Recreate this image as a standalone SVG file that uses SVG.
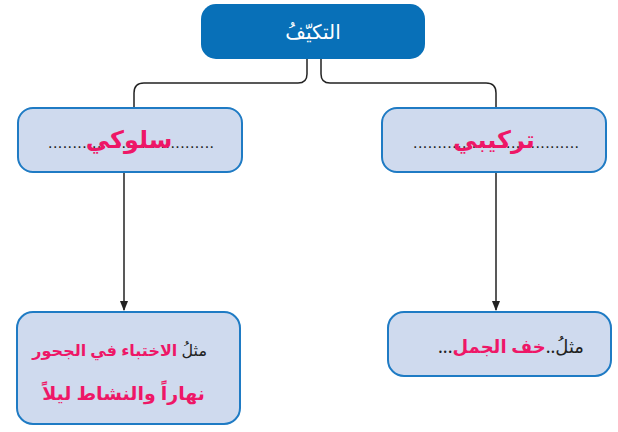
<svg xmlns="http://www.w3.org/2000/svg" width="618" height="432" viewBox="0 0 618 432">
<style>
.n{fill:#cfdaee;stroke:#1f7bc4;stroke-width:2}
.t{font-family:"Noto Sans","DejaVu Sans",sans-serif;direction:rtl}
.r{fill:#ee1767;font-weight:bold}
.k{fill:#222}
.d{fill:#222;font-family:"Liberation Sans",sans-serif;font-size:16px}
.c{fill:none;stroke:#222;stroke-width:1.5}
</style>
<defs><marker id="a" viewBox="0 0 10 10" refX="9" refY="5" markerWidth="7" markerHeight="9" orient="auto"><path d="M0,1 L10,5 L0,9z" fill="#222"/></marker></defs>
<g id="connectors">
<path class="c" d="M307,59 V74 Q307,83 298,83 H144 Q134,83 134,93 V107"/>
<path class="c" d="M321,59 V74 Q321,83 330,83 H486 Q496,83 496,93 V107"/>
<path class="c" d="M124,172 V310" marker-end="url(#a)"/>
<path class="c" d="M496,172 V310" marker-end="url(#a)"/>
</g>
<g id="root"><rect x="201" y="4" width="224" height="55" rx="15" fill="#0870b8"/>
<text class="t" x="313" y="39" text-anchor="middle" font-size="20" fill="#fff">التكيّفُ</text></g>
<g id="n1"><rect class="n" x="18" y="108" width="224" height="64" rx="15"/>
<text class="d" x="48" y="148" textLength="166" lengthAdjust="spacing">..................................</text>
<text class="t r" x="129" y="148" text-anchor="middle" font-size="24">سلوكي</text></g>
<g id="n2"><rect class="n" x="382" y="108" width="224" height="64" rx="15"/>
<text class="d" x="413" y="148" textLength="166" lengthAdjust="spacing">..................................</text>
<text class="t r" x="494" y="148" text-anchor="middle" font-size="24">تركيبي</text></g>
<g id="n3"><rect class="n" x="17" y="312" width="223" height="112" rx="16"/>
<text class="t" x="207" y="356" text-anchor="start" font-size="16"><tspan class="k">مثلُ</tspan><tspan class="r"> الاختباء في الجحور</tspan></text>
<text class="t r" x="205" y="400" text-anchor="start" font-size="19">نهاراً والنشاط ليلاً</text></g>
<g id="n4"><rect class="n" x="388" y="312" width="223" height="64" rx="16"/>
<text class="t" x="584" y="353" text-anchor="start" font-size="18"><tspan class="k">مثلُ..</tspan><tspan class="r">خف الجمل</tspan><tspan class="k">...</tspan></text></g>
</svg>
